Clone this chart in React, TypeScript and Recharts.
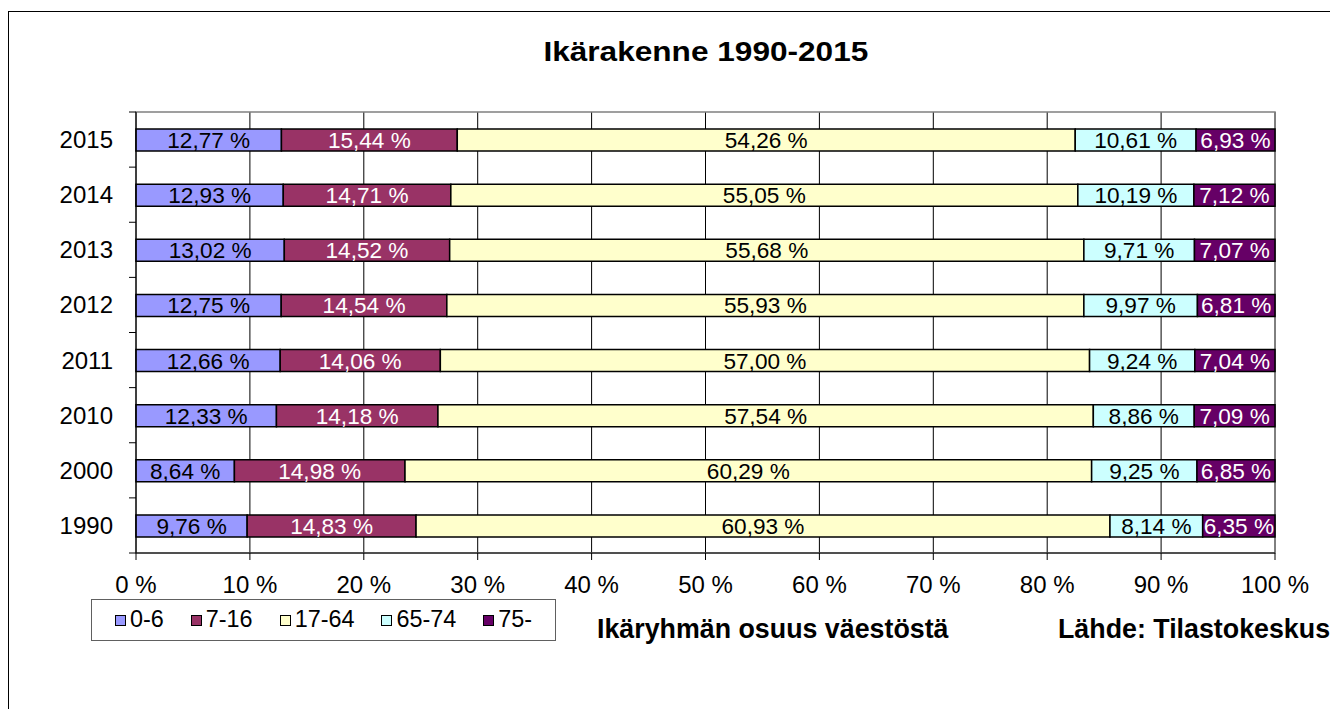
import { Bar, BarChart, CartesianGrid, LabelList, Legend, ReferenceArea, Text, XAxis, YAxis } from 'recharts'

const years = ['2015', '2014', '2013', '2012', '2011', '2010', '2000', '1990']
const age0to6 = [12.77, 12.93, 13.02, 12.75, 12.66, 12.33, 8.64, 9.76]
const age7to16 = [15.44, 14.71, 14.52, 14.54, 14.06, 14.18, 14.98, 14.83]
const age17to64 = [54.26, 55.05, 55.68, 55.93, 57.0, 57.54, 60.29, 60.93]
const age65to74 = [10.61, 10.19, 9.71, 9.97, 9.24, 8.86, 9.25, 8.14]
const age75plus = [6.93, 7.12, 7.07, 6.81, 7.04, 7.09, 6.85, 6.35]
const xTickPercents = [0, 10, 20, 30, 40, 50, 60, 70, 80, 90, 100]

const series = [
  { key: 'a', name: '0-6', fill: '#9999FF', text: '#000' },
  { key: 'b', name: '7-16', fill: '#993366', text: '#fff' },
  { key: 'c', name: '17-64', fill: '#FFFFCC', text: '#000' },
  { key: 'd', name: '65-74', fill: '#CCFFFF', text: '#000' },
  { key: 'e', name: '75-', fill: '#660066', text: '#fff' },
]

const data = years.map((year, i) => ({
  year,
  a: age0to6[i],
  b: age7to16[i],
  c: age17to64[i],
  d: age65to74[i],
  e: age75plus[i],
}))

const font = '"Liberation Sans", Arial, sans-serif'
const Y_GAP = 23
const Y_TICK_LEN = 7

const pct = (value: number) => `${value.toFixed(2).replace('.', ',')} %`

function YearTick(props: any) {
  const { x, y, payload, index, visibleTicksCount } = props
  const half = payload.offset ?? 27.5
  const axisX = x + Y_GAP
  return (
    <g>
      <Text x={x} y={y} textAnchor="end" verticalAnchor="middle" fontSize={24} fill="#000" fontFamily={font}>{payload.value}</Text>
      <line x1={axisX - Y_TICK_LEN} x2={axisX} y1={y - half} y2={y - half} stroke="#000" />
      {index === visibleTicksCount - 1 ? <line x1={axisX - Y_TICK_LEN} x2={axisX} y1={y + half} y2={y + half} stroke="#000" /> : null}
    </g>
  )
}

function LegendBox({ payload }: any) {
  const order = series.map((s) => s.name)
  const items = [...(payload || [])].sort((p: any, q: any) => order.indexOf(p.value) - order.indexOf(q.value))
  return (
    <div style={{ width: 465, height: 42, border: '1px solid #606060', display: 'flex', alignItems: 'center', gap: 27, paddingLeft: 23, boxSizing: 'border-box', fontFamily: font, fontSize: 23.4, color: '#000' }}>
      {items.map((entry: any) => (
        <div key={entry.value} style={{ display: 'flex', alignItems: 'center', gap: 4 }}>
          <span style={{ width: 9, height: 9, border: '1.5px solid #000', background: entry.color, display: 'inline-block' }} />
          <span style={{ fontSize: 23.4, lineHeight: 1 }}>{entry.value}</span>
        </div>
      ))}
    </div>
  )
}

export default function App() {
  return (
    <div style={{ position: 'fixed', left: 0, top: 0, width: 1330, height: 709, background: '#fff', overflow: 'hidden', fontFamily: font }}>
      <div style={{ position: 'absolute', left: 8, top: 11, width: 1400, height: 800, border: '1.5px solid #000' }} />
      <div style={{ position: 'absolute', left: 0, width: 1412, top: 39, textAlign: 'center', fontSize: 27, fontWeight: 'bold', lineHeight: 1 }}>
        <span style={{ display: 'inline-block', transform: 'scaleX(1.17)' }}>Ikärakenne 1990-2015</span>
      </div>
      <div style={{ position: 'absolute', left: 597, top: 616, fontSize: 26.8, fontWeight: 'bold', lineHeight: 1, whiteSpace: 'nowrap' }}>Ikäryhmän osuus väestöstä</div>
      <div style={{ position: 'absolute', left: 1058, top: 616, fontSize: 26.8, fontWeight: 'bold', lineHeight: 1, whiteSpace: 'nowrap' }}>Lähde: Tilastokeskus</div>
      <div style={{ position: 'absolute', left: 0, top: 0 }}>
        <BarChart width={1330} height={709} data={data} layout="vertical" stackOffset="expand" barSize={22} margin={{ top: 112, right: 55, left: 0, bottom: 116 }}>
          <CartesianGrid horizontal={false} vertical stroke="#000" />
          <XAxis
            type="number"
            domain={[0, 1]}
            ticks={xTickPercents.map((p) => p / 100)}
            tickFormatter={(v: number) => `${Math.round(v * 100)} %`}
            height={40}
            tickSize={7}
            tickMargin={16}
            stroke="#000"
            tick={{ fontSize: 24, fill: '#000', fontFamily: font }}
          />
          <YAxis type="category" dataKey="year" width={136} tickSize={0} tickMargin={Y_GAP} tickLine={false} stroke="#000" tick={<YearTick />} interval={0} />
          <ReferenceArea x1={0} x2={1} stroke="#808080" strokeWidth={1.5} fill="none" fillOpacity={0} />
          <Legend layout="vertical" verticalAlign="middle" align="center" wrapperStyle={{ left: 91, top: 599, width: 465, height: 42 }} content={<LegendBox />} />
          {series.map((s) => (
            <Bar key={s.key} dataKey={s.key} name={s.name} stackId="all" fill={s.fill} stroke="#000" strokeWidth={1.5} isAnimationActive={false}>
              <LabelList dataKey={s.key} position="center" formatter={(v: any) => pct(Number(v))} fill={s.text} fontSize={22.6} fontFamily={font} />
            </Bar>
          ))}
        </BarChart>
      </div>
    </div>
  )
}
